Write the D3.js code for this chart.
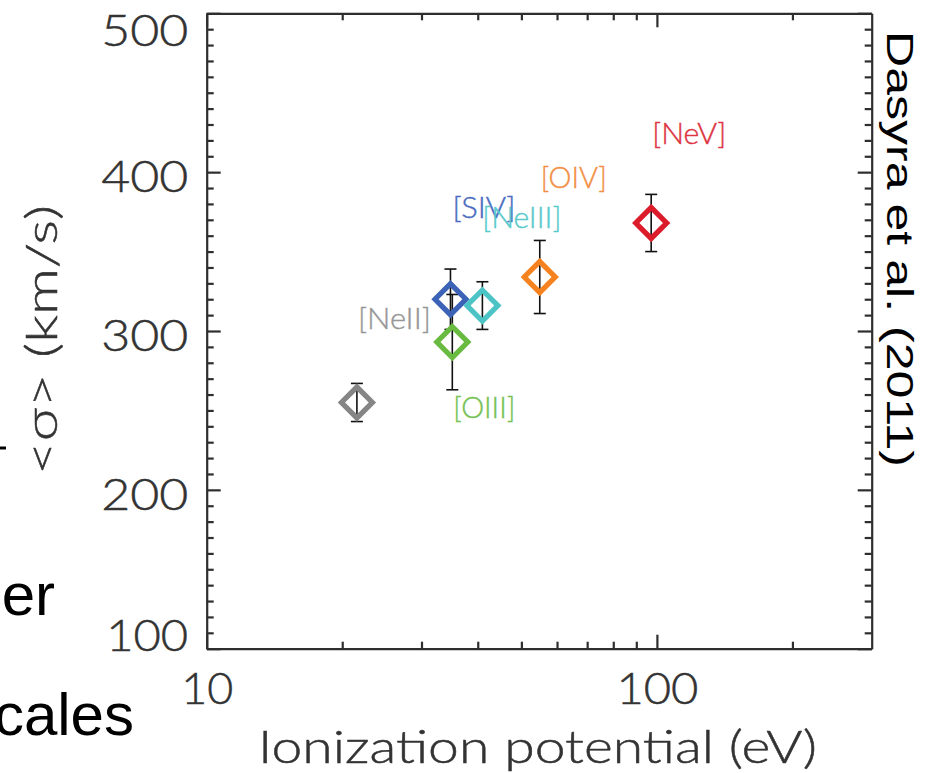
<!DOCTYPE html>
<html>
<head>
<meta charset="utf-8">
<script src="https://cdn.jsdelivr.net/npm/d3@7"></script>
<style>
  html, body { margin: 0; padding: 0; background: #fff; }
  svg { display: block; }
</style>
</head>
<body>
<script>
// Mean velocity dispersion of mid-IR fine-structure lines vs. ionization potential
const ions = ["[NeII]", "[SIV]", "[OIII]", "[NeIII]", "[OIV]", "[NeV]"];
const ionizationPotential = [21.56, 34.79, 35.12, 40.96, 54.93, 97.12]; // eV
const sigmaMean = [255, 320, 293, 316, 334, 368];                          // km/s
const sigmaErr = [12, 19, 30, 15, 23, 18];                                 // km/s

const xMajorTicks = [10, 100];
const xMinorTicks = [20, 30, 40, 50, 60, 70, 80, 90, 200];
const yMajorTicks = [100, 200, 300, 400, 500];
const yMinorTicks = d3.range(110, 500, 10).filter(v => v % 100 !== 0);

// per-ion styling and label placement (pixels relative to the marker centre)
const ionStyle = {
  "[NeII]":  { stroke: "#858585", label: "#979797", dx: 1, dy: -73 },
  "[SIV]":   { stroke: "#3b62b6", label: "#4a6cc0", dx: 2, dy: -81 },
  "[OIII]":  { stroke: "#68bb40", label: "#76c255", dx: 1, dy: 76 },
  "[NeIII]": { stroke: "#4cc4c6", label: "#58cacc", dx: 0, dy: -78 },
  "[OIV]":   { stroke: "#f5821e", label: "#f28f45", dx: 1, dy: -89 },
  "[NeV]":   { stroke: "#dc1c2a", label: "#dd3440", dx: 1, dy: -79 }
};
const labelWidths = { "[NeII]": 73, "[SIV]": 63, "[OIII]": 62, "[NeIII]": 79, "[OIV]": 66, "[NeV]": 74 };

const W = 933, H = 773;
const plot = { left: 206.7, right: 871.7, top: 13.3, bottom: 648.7 };
const axisColor = "#2e2e2e";
const textColor = "#333";
const idlFont = "Lato, 'Open Sans', sans-serif";
const idlWeight = 300;
// rendered width of a tick label, by its digit string
const tickLabelWidth = s => s.length === 2 ? 52 : (s[0] === "1" ? 82 : 87);

const svg = d3.select("body").append("svg")
  .attr("width", W).attr("height", H)
  .attr("viewBox", `0 0 ${W} ${H}`);
svg.append("rect").attr("width", W).attr("height", H).attr("fill", "#fff");

const x = d3.scaleLog().domain([10, 300]).range([plot.left, plot.right]);
const y = d3.scaleLinear().domain([100, 500]).range([plot.bottom, plot.top]);

function styleAxis(g, keepDomain) {
  g.attr("font-family", idlFont).attr("font-size", 44).attr("font-weight", idlWeight);
  if (keepDomain) g.select(".domain").attr("stroke", axisColor).attr("stroke-width", 2.2);
  else g.select(".domain").remove();
  g.selectAll(".tick line").attr("stroke", axisColor).attr("stroke-width", 2.2);
  g.selectAll(".tick text").attr("fill", textColor)
    .attr("stroke", textColor).attr("stroke-width", 0.5)
    .attr("textLength", function () { return tickLabelWidth(this.textContent); })
    .attr("lengthAdjust", "spacingAndGlyphs");
}

// ---- bottom axis
const gBottom = svg.append("g").attr("transform", `translate(0,${plot.bottom})`);
gBottom.call(d3.axisBottom(x).tickValues(xMajorTicks).tickSize(-14).tickSizeOuter(0).tickFormat(d3.format("d")))
  .call(g => styleAxis(g, true));
gBottom.selectAll(".tick text").attr("y", 55).attr("dy", null);
svg.append("g").attr("transform", `translate(0,${plot.bottom})`)
  .call(d3.axisBottom(x).tickValues(xMinorTicks).tickSize(-7).tickFormat(""))
  .call(g => styleAxis(g, false));

// ---- top axis
svg.append("g").attr("transform", `translate(0,${plot.top})`)
  .call(d3.axisTop(x).tickValues(xMajorTicks).tickSize(-14).tickSizeOuter(0).tickFormat(""))
  .call(g => styleAxis(g, true));
svg.append("g").attr("transform", `translate(0,${plot.top})`)
  .call(d3.axisTop(x).tickValues(xMinorTicks).tickSize(-7).tickFormat(""))
  .call(g => styleAxis(g, false));

// ---- left axis
const gLeft = svg.append("g").attr("transform", `translate(${plot.left},0)`);
gLeft.call(d3.axisLeft(y).tickValues(yMajorTicks).tickSize(-14).tickSizeOuter(0).tickFormat(d3.format("d")))
  .call(g => styleAxis(g, true));
gLeft.selectAll(".tick text")
  .attr("x", -18.5).attr("dy", null)
  .attr("y", d => d === 500 ? 31.7 : d === 100 ? 1.3 : 19.5);
svg.append("g").attr("transform", `translate(${plot.left},0)`)
  .call(d3.axisLeft(y).tickValues(yMinorTicks).tickSize(-7).tickFormat(""))
  .call(g => styleAxis(g, false));

// ---- right axis
svg.append("g").attr("transform", `translate(${plot.right},0)`)
  .call(d3.axisRight(y).tickValues(yMajorTicks).tickSize(-14).tickSizeOuter(0).tickFormat(""))
  .call(g => styleAxis(g, true));
svg.append("g").attr("transform", `translate(${plot.right},0)`)
  .call(d3.axisRight(y).tickValues(yMinorTicks).tickSize(-7).tickFormat(""))
  .call(g => styleAxis(g, false));

// ---- axis titles
svg.append("text")
  .attr("x", 258).attr("y", 763)
  .attr("font-family", idlFont).attr("font-weight", idlWeight).attr("font-size", 46)
  .attr("fill", textColor).attr("stroke", textColor).attr("stroke-width", 0.5)
  .attr("textLength", 559).attr("lengthAdjust", "spacingAndGlyphs")
  .text("Ionization potential (eV)");

svg.append("text")
  .attr("transform", "translate(57,340) rotate(-90)")
  .attr("text-anchor", "middle")
  .attr("font-family", idlFont).attr("font-weight", idlWeight).attr("font-size", 44)
  .attr("fill", textColor).attr("stroke", textColor).attr("stroke-width", 0.5)
  .attr("textLength", 270).attr("lengthAdjust", "spacingAndGlyphs")
  .text("<σ> (km/s)");

// ---- reference note
svg.append("text")
  .attr("transform", "translate(887,31) rotate(90)")
  .attr("font-family", "'Liberation Sans', Arial, sans-serif").attr("font-size", 36).attr("fill", "#000")
  .attr("textLength", 436).attr("lengthAdjust", "spacingAndGlyphs")
  .text("Dasyra et al. (2011)");

// ---- surrounding slide text
const slideFont = "'Liberation Sans', Arial, sans-serif";
svg.append("text").attr("x", 55).attr("y", 615).attr("text-anchor", "end")
  .attr("font-family", slideFont).attr("font-size", 60).attr("fill", "#000").text("er");
svg.append("text").attr("x", 134).attr("y", 735).attr("text-anchor", "end")
  .attr("font-family", slideFont).attr("font-size", 60).attr("fill", "#000").text("cales");
svg.append("line").attr("x1", 0).attr("x2", 6).attr("y1", 448).attr("y2", 448)
  .attr("stroke", "#000").attr("stroke-width", 3);

// ---- data
const points = ions.map((name, i) => ({
  name, ip: ionizationPotential[i], sigma: sigmaMean[i], err: sigmaErr[i]
}));

const diamond = d3.symbol().type(d3.symbolSquare).size(480);

const gPts = svg.append("g");
// error bars
const eb = gPts.selectAll("g.err").data(points).join("g").attr("class", "err")
  .attr("stroke", "#111").attr("stroke-width", 1.6);
eb.append("line")
  .attr("x1", d => x(d.ip)).attr("x2", d => x(d.ip))
  .attr("y1", d => y(d.sigma + d.err)).attr("y2", d => y(d.sigma - d.err));
eb.append("line")
  .attr("x1", d => x(d.ip) - 6).attr("x2", d => x(d.ip) + 6)
  .attr("y1", d => y(d.sigma + d.err)).attr("y2", d => y(d.sigma + d.err));
eb.append("line")
  .attr("x1", d => x(d.ip) - 6).attr("x2", d => x(d.ip) + 6)
  .attr("y1", d => y(d.sigma - d.err)).attr("y2", d => y(d.sigma - d.err));

// hollow diamonds
gPts.selectAll("path.mk").data(points).join("path").attr("class", "mk")
  .attr("d", diamond)
  .attr("transform", d => `translate(${x(d.ip)},${y(d.sigma)}) rotate(45)`)
  .attr("fill", "none")
  .attr("stroke", d => ionStyle[d.name].stroke)
  .attr("stroke-width", 5.2)
  .attr("stroke-linejoin", "miter");

// ion labels
gPts.selectAll("text.lbl").data(points).join("text").attr("class", "lbl")
  .attr("x", d => x(d.ip) + ionStyle[d.name].dx)
  .attr("y", d => y(d.sigma) + ionStyle[d.name].dy)
  .attr("font-family", idlFont).attr("font-weight", idlWeight).attr("font-size", 30)
  .attr("fill", d => ionStyle[d.name].label)
  .attr("stroke", d => ionStyle[d.name].label).attr("stroke-width", 0.4)
  .attr("textLength", d => labelWidths[d.name]).attr("lengthAdjust", "spacingAndGlyphs")
  .text(d => d.name);
</script>
</body>
</html>
